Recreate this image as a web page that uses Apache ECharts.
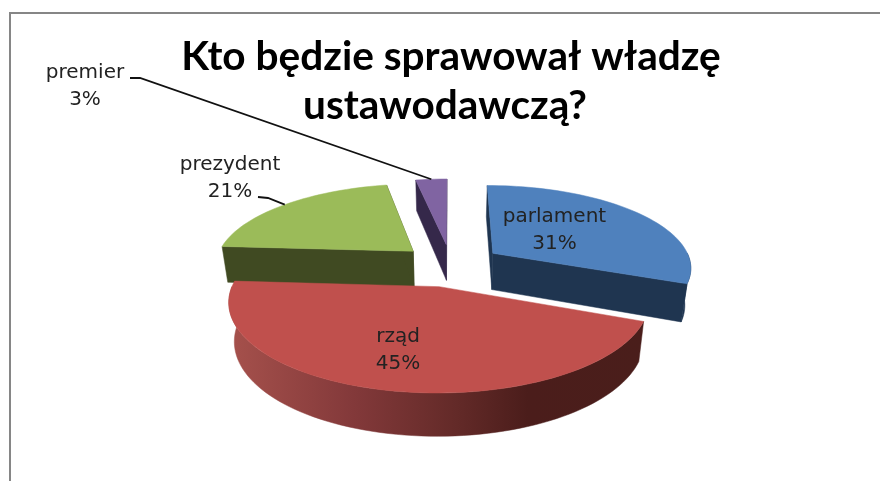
<!DOCTYPE html>
<html>
<head>
<meta charset="utf-8">
<style>html,body{margin:0;padding:0;background:#fff}#chart{width:880px;height:481px}</style>
<script src="https://cdn.jsdelivr.net/npm/echarts@6/dist/echarts.min.js"></script>
</head>
<body>
<div id="chart"></div>
<script>
// Survey answers, in percent, clockwise from twelve o'clock.
const categories = ['parlament', 'rząd', 'prezydent', 'premier'];
const shares = [31, 45, 21, 3];
const titleLines = ['Kto będzie sprawował władzę', 'ustawodawczą?'];

// Slice paint order, label placement and colours.
const paintRank = [2, 3, 1, 0];
const labelCentres = [[554.5, 230], [398, 350], [230, 178], [85, 86]];
const titleCentres = [[451, 34], [445, 83]];
const topColours = ['#4f81bd', '#c0504d', '#9bbb59', '#8064a2'];
const sideColours = ['#1f3550', null, '#404a22', '#35284a'];
const leaderKnees = [null, null, [[258, 197], [268, 198]], [[130, 78], [140, 78]]];

// Tilted-disc projection: world units are pie radii, y grows toward the viewer.
const VIEW = { cx: 451, cy: 265, ax: 199, ay: 81.9, persp: 0.1577, explode: 0.26, shrink: 0.975 };

function project(u, v) {
  const d = 1 - VIEW.persp * v;
  return [VIEW.cx + VIEW.ax * u / d, VIEW.cy + VIEW.ay * v / d];
}
function dropPoint(p, v) {
  return [VIEW.cx + (p[0] - VIEW.cx) * VIEW.shrink, p[1] + 37 + 5 * v];
}
function unit(deg) {
  const r = deg * Math.PI / 180;
  return [Math.sin(r), -Math.cos(r)];
}

const total = shares.reduce((a, b) => a + b, 0);
const starts = [];
shares.reduce((acc, s, i) => { starts[i] = acc; return acc + s; }, 0);

const redRim = new echarts.graphic.LinearGradient(0, 0, 1, 0, [
  { offset: 0, color: '#a6514c' },
  { offset: 0.3, color: '#83393a' },
  { offset: 0.55, color: '#632a28' },
  { offset: 0.72, color: '#4b1d1b' },
  { offset: 1, color: '#4a1e1b' }
]);

function arcWorld(from, to, ox, oy) {
  const steps = Math.max(4, Math.round((to - from) / 2));
  const pts = [];
  for (let k = 0; k <= steps; k++) {
    const d = unit(from + (to - from) * k / steps);
    pts.push([ox + d[0], oy + d[1]]);
  }
  return pts;
}

function renderSlice(params, api) {
  const i = params.dataIndex;
  const a0 = starts[i] / total * 360;
  const a1 = a0 + api.value(0) / total * 360;
  const mid = unit((a0 + a1) / 2);
  const ox = mid[0] * VIEW.explode;
  const oy = mid[1] * VIEW.explode;

  const rimTop = arcWorld(a0, a1, ox, oy).map(w => project(w[0], w[1]));
  const apex = project(ox, oy);
  const apexLow = dropPoint(apex, oy);
  const base = paintRank[i] * 10;
  const children = [];

  const face = (points, fill, z2) => children.push({
    type: 'polygon', z2, shape: { points },
    style: { fill, stroke: fill, lineWidth: 0.5 }
  });

  // Cut faces, then the part of the outer wall that faces the viewer.
  if (sideColours[i]) {
    const startLow = dropPoint(rimTop[0], oy + unit(a0)[1]);
    const endLow = dropPoint(rimTop[rimTop.length - 1], oy + unit(a1)[1]);
    face([apex, rimTop[0], startLow, apexLow], sideColours[i], base);
    face([apex, rimTop[rimTop.length - 1], endLow, apexLow], sideColours[i], base);
  }
  const wallFrom = Math.max(a0, 90);
  const wallTo = Math.min(a1, 270);
  if (wallTo > wallFrom) {
    const wall = arcWorld(wallFrom, wallTo, ox, oy);
    const wallTop = wall.map(w => project(w[0], w[1]));
    const wallLow = wall.map((w, k) => dropPoint(wallTop[k], w[1]));
    face(wallTop.concat(wallLow.reverse()), sideColours[i] || redRim, base + 1);
  }
  face([apex].concat(rimTop), topColours[i], base + 2);

  // Category and percentage above everything else.
  const c = labelCentres[i];
  children.push({
    type: 'text', z2: 100, x: c[0], y: c[1],
    style: {
      text: categories[i] + '\n' + api.value(0) + '%',
      align: 'center', verticalAlign: 'middle',
      font: '20px "DejaVu Sans"', lineHeight: 27, fill: '#222'
    }
  });

  // Leader line from the outside label to the middle of the slice's rim.
  if (leaderKnees[i]) {
    const end = project(ox + mid[0], oy + mid[1]);
    children.push({
      type: 'polyline', z2: 99,
      shape: { points: leaderKnees[i].concat([end]) },
      style: { fill: null, stroke: '#111', lineWidth: 1.8 }
    });
  }
  return { type: 'group', children };
}

const chart = echarts.init(document.getElementById('chart'), null, { renderer: 'canvas' });
chart.setOption({
  animation: false,
  backgroundColor: '#fff',
  title: titleLines.map((line, i) => ({
    text: line,
    left: titleCentres[i][0], top: titleCentres[i][1], padding: 0, textAlign: 'center',
    textStyle: { fontFamily: 'Lato', fontWeight: 'bold', fontSize: 40.6, lineHeight: 46, color: '#000' }
  })),
  graphic: [{
    type: 'rect', z: -1, silent: true,
    shape: { x: 10, y: 13, width: 890, height: 490 },
    style: { fill: '#fff', stroke: '#868686', lineWidth: 2 }
  }],
  series: [{
    type: 'custom',
    coordinateSystem: 'none',
    silent: true,
    data: shares.map(s => [s]),
    renderItem: renderSlice
  }]
});
</script>
</body>
</html>
